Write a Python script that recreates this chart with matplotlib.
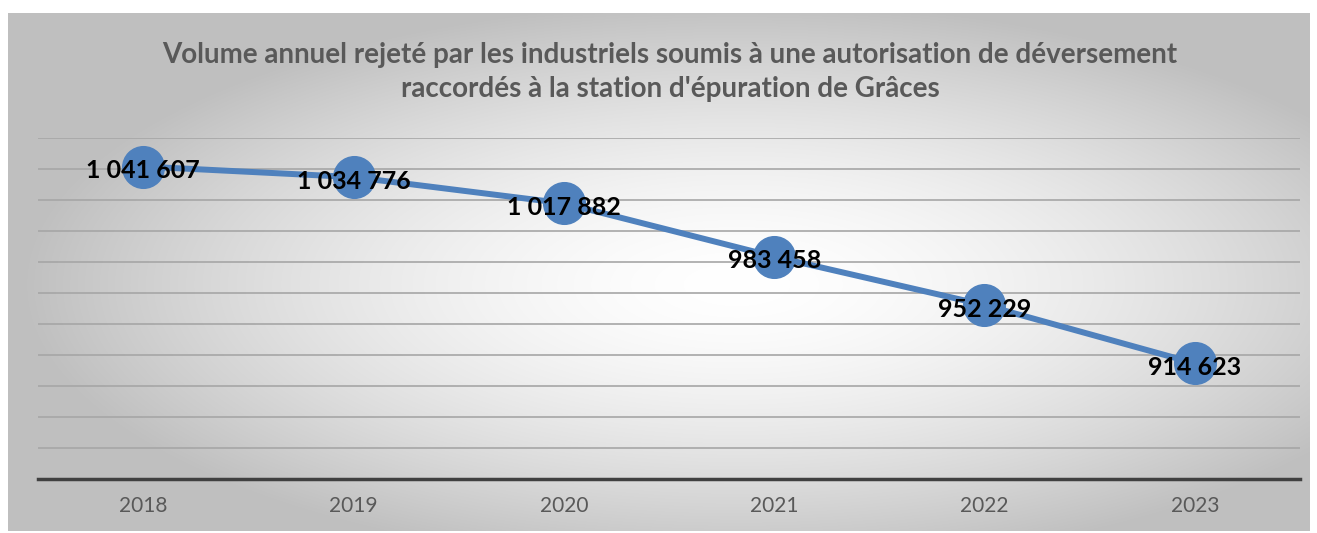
import numpy as np
import matplotlib
matplotlib.use("Agg")
import matplotlib.pyplot as plt

# Données du graphique
years = ["2018", "2019", "2020", "2021", "2022", "2023"]
volumes = [1041607, 1034776, 1017882, 983458, 952229, 914623]
title = ("Volume annuel rejeté par les industriels soumis à une autorisation de déversement\n"
         "raccordés à la station d'épuration de Grâces")

W, H = 1317, 533
fig = plt.figure(figsize=(W / 100, H / 100), dpi=100)
fig.patch.set_facecolor("white")

# Fond dégradé radial (blanc au centre, gris sur les bords)
bg = fig.add_axes([8 / W, 2 / H, 1302 / W, 518 / H])
bg.set_axis_off()
gx, gy = np.meshgrid(np.linspace(-1, 1, 600), np.linspace(-1, 1, 300))
cx, cy = 0.12, 0.05
r = np.sqrt(((gx - cx) / 1.1) ** 2 + ((gy - cy) / 1.1) ** 2)
r = np.clip(r, 0, 1)
shade = 1.0 - 0.25 * r ** 1.6
img = np.dstack([shade, shade, shade])
bg.imshow(img, aspect="auto", extent=[0, 1, 0, 1], interpolation="bilinear")
bg.set_xlim(0, 1)
bg.set_ylim(0, 1)

ax = fig.add_axes([38 / W, 54 / H, 1262 / W, 341 / H])
ax.patch.set_alpha(0)
x = np.arange(len(years))
ax.plot(x, volumes, color="#4f81bd", lw=4.3, marker="o", markersize=30,
        markerfacecolor="#4f81bd", markeredgecolor="#4f81bd", zorder=3,
        solid_capstyle="round")

for xi, v in zip(x, volumes):
    label = f"{v:,}".replace(",", " ")
    ax.annotate(label, (xi, v), xytext=(0, -3), textcoords="offset points",
                ha="center", va="center", fontsize=18, fontweight="bold",
                color="black", family="Lato", zorder=4)

ax.set_xlim(-0.5, len(years) - 0.5)
ax.set_ylim(840000, 1060000)
ax.set_yticks(np.arange(840000, 1060001, 20000))
ax.yaxis.grid(True, color="#a6a6a6", lw=1.2)
ax.set_axisbelow(True)
ax.tick_params(axis="y", left=False, labelleft=False)
ax.set_xticks(x)
ax.set_xticklabels(years, fontsize=15, color="#595959", family="Lato")
ax.tick_params(axis="x", length=0, pad=12)
for s in ["top", "right", "left"]:
    ax.spines[s].set_visible(False)
ax.spines["bottom"].set_color("#404040")
ax.spines["bottom"].set_linewidth(2.5)

fig.text(670 / W, 1 - 72 / H, title, ha="center", va="center", fontsize=20,
         fontweight="bold", color="#595959", family="Lato", linespacing=1.4)

fig.savefig("out.png", dpi=100)
